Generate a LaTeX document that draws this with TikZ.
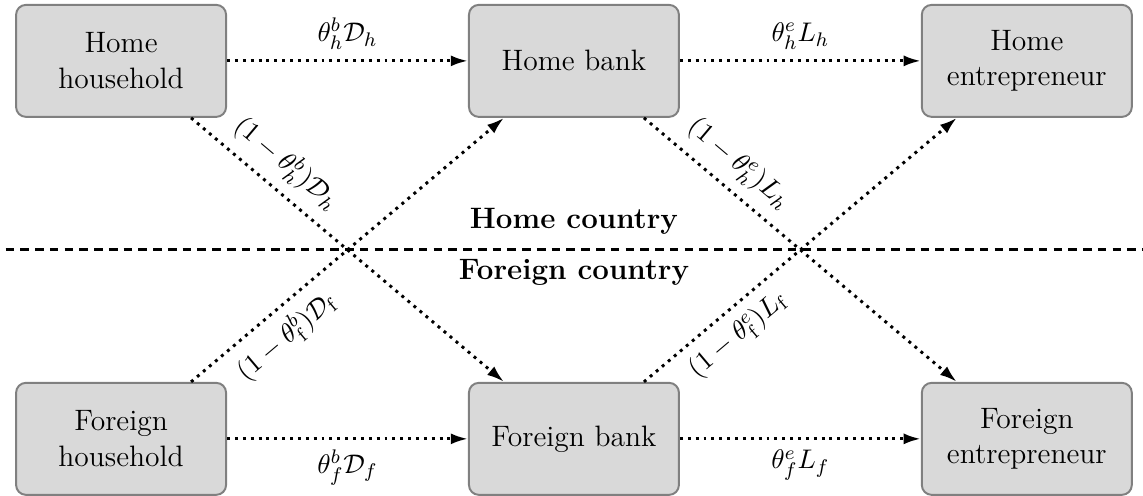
\documentclass[tikz,border=0pt,12pt]{standalone}
\usetikzlibrary{arrows.meta}
\begin{document}
\begin{tikzpicture}
	\tikzstyle{agent} = [rectangle, rounded corners=4pt, minimum width=3cm, minimum height=1.6cm, align=center, draw=gray, thick, fill=gray!30]
	\tikzstyle{flow}  = [-{Latex[length=7pt,width=4.5pt]}, very thick, dotted]

	\useasboundingbox (-1.73,-0.815) rectangle (14.6,6.27);

	\foreach \name/\x/\y/\text in {hh/0/5.4/{Home\\household}, hb/6.47/5.4/{Home bank}, he/12.94/5.4/{Home\\entrepreneur}, fh/0/0/{Foreign\\household}, fb/6.47/0/{Foreign bank}, fe/12.94/0/{Foreign\\entrepreneur}}
		\node[agent] (\name) at (\x, \y) {\text};

	% country border
	\draw[very thick, dash pattern=on 3.5pt off 2.5pt] (-1.65,2.7) -- (14.6,2.7);
	\node[anchor=base, font=\bfseries] (home) at (6.47,3.0) {Home country};
	\node[anchor=base, font=\bfseries] (foreign) at (6.47,2.27) {Foreign country};

	% flows within a country
	\foreach \from/\to/\lab/\where in {hh/hb/{$\theta^b_h\mathcal{D}_h$}/above, hb/he/{$\theta^e_h L_h$}/above, fh/fb/{$\theta^b_f\mathcal{D}_f$}/below, fb/fe/{$\theta^e_f L_f$}/below}
		\path[flow] (\from) edge node[\where, font=\small] {\lab} (\to);

	% flows across the border
	\foreach \from/\sa/\to/\ta/\lab/\where in {hh/south/fb/north/{$(1-\theta^b_h)\mathcal{D}_h$}/above, fh/north/hb/south/{$(1-\theta^b_{\mathrm{f}})\mathcal{D}_{\mathrm{f}}$}/below, hb/south/fe/north/{$(1-\theta^e_h)L_h$}/above, fb/north/he/south/{$(1-\theta^e_{\mathrm{f}})L_{\mathrm{f}}$}/below}
		\path[flow] ([xshift=1cm]\from.\sa) edge node[\where, sloped, pos=0.25, font=\small] {\lab} ([xshift=-1cm]\to.\ta);
\end{tikzpicture}
\end{document}
